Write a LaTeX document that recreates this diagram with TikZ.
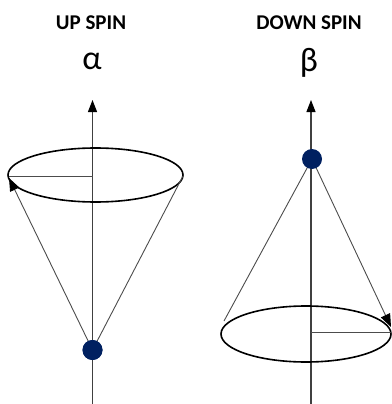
\documentclass[tikz,border=0pt]{standalone}
\usepackage{fontspec}
\setmainfont{Carlito}
\usetikzlibrary{arrows.meta}
\definecolor{dotblue}{HTML}{002060}
\begin{document}
\begin{tikzpicture}[x=1pt,y=-1pt,
  title/.style={font=\fontsize{21}{24}\selectfont\bfseries},
  greek/.style={font=\fontsize{34}{38}\selectfont},
  axisline/.style={draw=black!75,line width=1.1pt,-{Triangle[length=12pt,width=9pt,color=black]}},
  ring/.style={draw=black,line width=1.6pt},
  radius/.style={draw=black!70,line width=1pt},
  coneline/.style={draw=black!70,line width=0.9pt},
  conearrow/.style={coneline,-{Triangle[length=13pt,width=10pt,color=black]}},
  spindot/.style={circle,fill=dotblue,minimum size=20pt,inner sep=0pt}]
\useasboundingbox (0,0) rectangle (391,404);
% left: up spin
\node[title] (t1) at (91,23) {UP SPIN};
\node[greek] (g1) at (92,61) {α};
\coordinate (a1b) at (92.5,404);
\coordinate (a1t) at (92.5,100);
\draw[axisline] (a1b) -- (a1t);
\draw[ring] (95.5,175) ellipse [x radius=87.5, y radius=27];
\coordinate (r1c) at (92.5,176);
\coordinate (r1e) at (9,176);
\draw[radius] (r1c) -- (r1e);
\node[spindot] (d1) at (92.5,350) {};
\coordinate (c1l) at (9,178);
\coordinate (c1r) at (183,176);
\draw[conearrow] (d1.center) -- (c1l);
\draw[coneline] (d1.center) -- (c1r);
\node[spindot] (d1b) at (92.5,350) {};
% right: down spin
\node[title] (t2) at (309,23) {DOWN SPIN};
\node[greek] (g2) at (309,63) {β};
\coordinate (a2b) at (311,404);
\coordinate (a2t) at (311,100);
\draw[axisline] (a2b) -- (a2t);
\draw[ring] (306,334) ellipse [x radius=85, y radius=28];
\coordinate (r2c) at (311,332);
\coordinate (r2e) at (391,332);
\draw[radius] (r2c) -- (r2e);
\coordinate (c2l) at (224,321);
\coordinate (c2r) at (391,327);
\draw[coneline] (312,159) -- (c2l);
\draw[conearrow] (312,159) -- (c2r);
\node[spindot] (d2) at (312,159) {};
\end{tikzpicture}
\end{document}
